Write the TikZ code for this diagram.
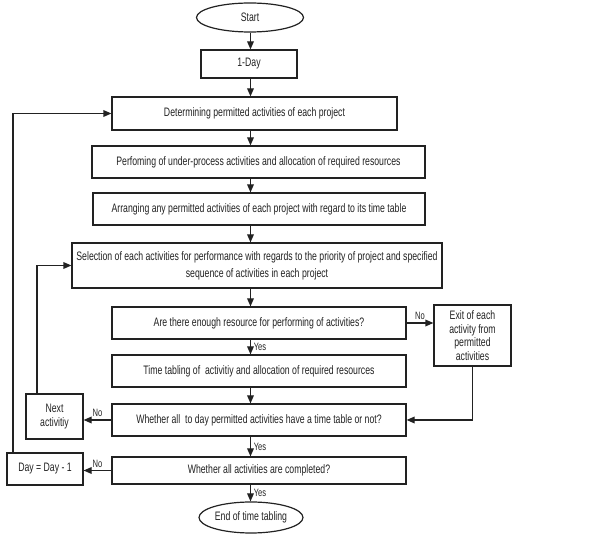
\documentclass[tikz,border=0pt]{standalone}
\usepackage{fontspec}
\setmainfont{Liberation Sans}[FakeStretch=0.71]
\usetikzlibrary{arrows.meta,shapes.geometric}
\definecolor{ink}{HTML}{222222}
\tikzset{
  box/.style={draw=ink, line width=0.9pt, rectangle, align=center, text=ink, inner sep=1pt,
    font=\fontsize{9.2}{11}\selectfont},
  oval/.style={draw=ink, line width=0.9pt, ellipse, align=center, text=ink, inner sep=0pt,
    font=\fontsize{9.2}{11}\selectfont},
  arr/.style={draw=ink, line width=0.9pt, -{Triangle[length=6pt,width=5pt]}},
  lbl/.style={text=ink, font=\fontsize{8}{9}\selectfont, inner sep=2pt}
}
\begin{document}
\begin{tikzpicture}[x=0.75pt,y=-0.75pt]
\useasboundingbox (0,0) rectangle (590,534);
\coordinate (ax) at (250.5,0);
\coordinate (lx) at (13,0);
\coordinate (nx) at (37,0);

\node[oval, minimum width=80.25pt, minimum height=21.75pt] (start) at (250,17.5) {Start};
\node[box, minimum width=72pt, minimum height=21pt] (day1) at (249,64) {1-Day};
\node[box, minimum width=213.75pt, minimum height=24.75pt] (det) at (254.5,113.5) {Determining permitted activities of each project};
\node[box, minimum width=249.75pt, minimum height=24pt] (perf) at (258.5,162) {Perfoming of under-process activities and allocation of required resources};
\node[box, minimum width=249pt, minimum height=24pt] (arr) at (259,209) {Arranging any permitted activities of each project with regard to its time table};
\node[box, minimum width=277.5pt, minimum height=33.75pt, font=\fontsize{9.2}{12.5}\selectfont] (sel) at (257,265.5) {Selection of each activities for performance with regards to the priority of project and specified\\sequence of activities in each project};
\node[box, minimum width=220.5pt, minimum height=24pt] (enough) at (259,323) {Are there enough resource for performing of activities?};
\node[box, minimum width=57.75pt, minimum height=45.75pt, font=\fontsize{9.2}{10.3}\selectfont] (exitb) at (472.5,335.5) {Exit of each\\activity from\\permitted\\activities};
\node[box, minimum width=220.5pt, minimum height=24pt] (tt) at (259,371) {Time tabling of\ \ activitiy and allocation of required resources};
\node[box, minimum width=220.5pt, minimum height=24pt] (wall) at (259,420) {Whether all\ \ to day permitted activities have a time table or not?};
\node[box, minimum width=42.75pt, minimum height=33.75pt] (next) at (54.5,416.5) {Next\\activitiy};
\node[box, minimum width=57pt, minimum height=24pt] (dayb) at (45,469) {Day = Day - 1};
\node[box, minimum width=220.5pt, minimum height=20.25pt] (comp) at (259,470.5) {Whether all activities are completed?};
\node[oval, minimum width=78pt, minimum height=23.25pt] (endn) at (251,517.5) {End of time tabling};

\draw[arr] (start.south -| ax) -- (day1.north -| ax);
\draw[arr] (day1.south -| ax) -- (det.north -| ax);
\draw[arr] (det.south -| ax) -- (perf.north -| ax);
\draw[arr] (perf.south -| ax) -- (arr.north -| ax);
\draw[arr] (arr.south -| ax) -- (sel.north -| ax);
\draw[arr] (sel.south -| ax) -- (enough.north -| ax);
\draw[arr] (enough.south -| ax) -- (tt.north -| ax) node[lbl, midway, right] {Yes};
\draw[arr] (tt.south -| ax) -- (wall.north -| ax);
\draw[arr] (wall.south -| ax) -- (comp.north -| ax) node[lbl, midway, right] {Yes};
\draw[arr] (comp.south -| ax) -- (endn.north -| ax) node[lbl, midway, right] {Yes};

\draw[arr] (enough.east) -- (enough.east -| exitb.west) node[lbl, midway, above] {No};
\draw[arr] (exitb.south) |- (wall.east);
\draw[arr] (wall.west) -- (wall.west -| next.east) node[lbl, midway, above] {No};
\draw[arr] (comp.west) -- (comp.west -| dayb.east) node[lbl, midway, above] {No};
\draw[arr] (next.north -| nx) |- (sel.west);
\draw[arr] (dayb.north -| lx) |- (det.west);
\end{tikzpicture}
\end{document}
